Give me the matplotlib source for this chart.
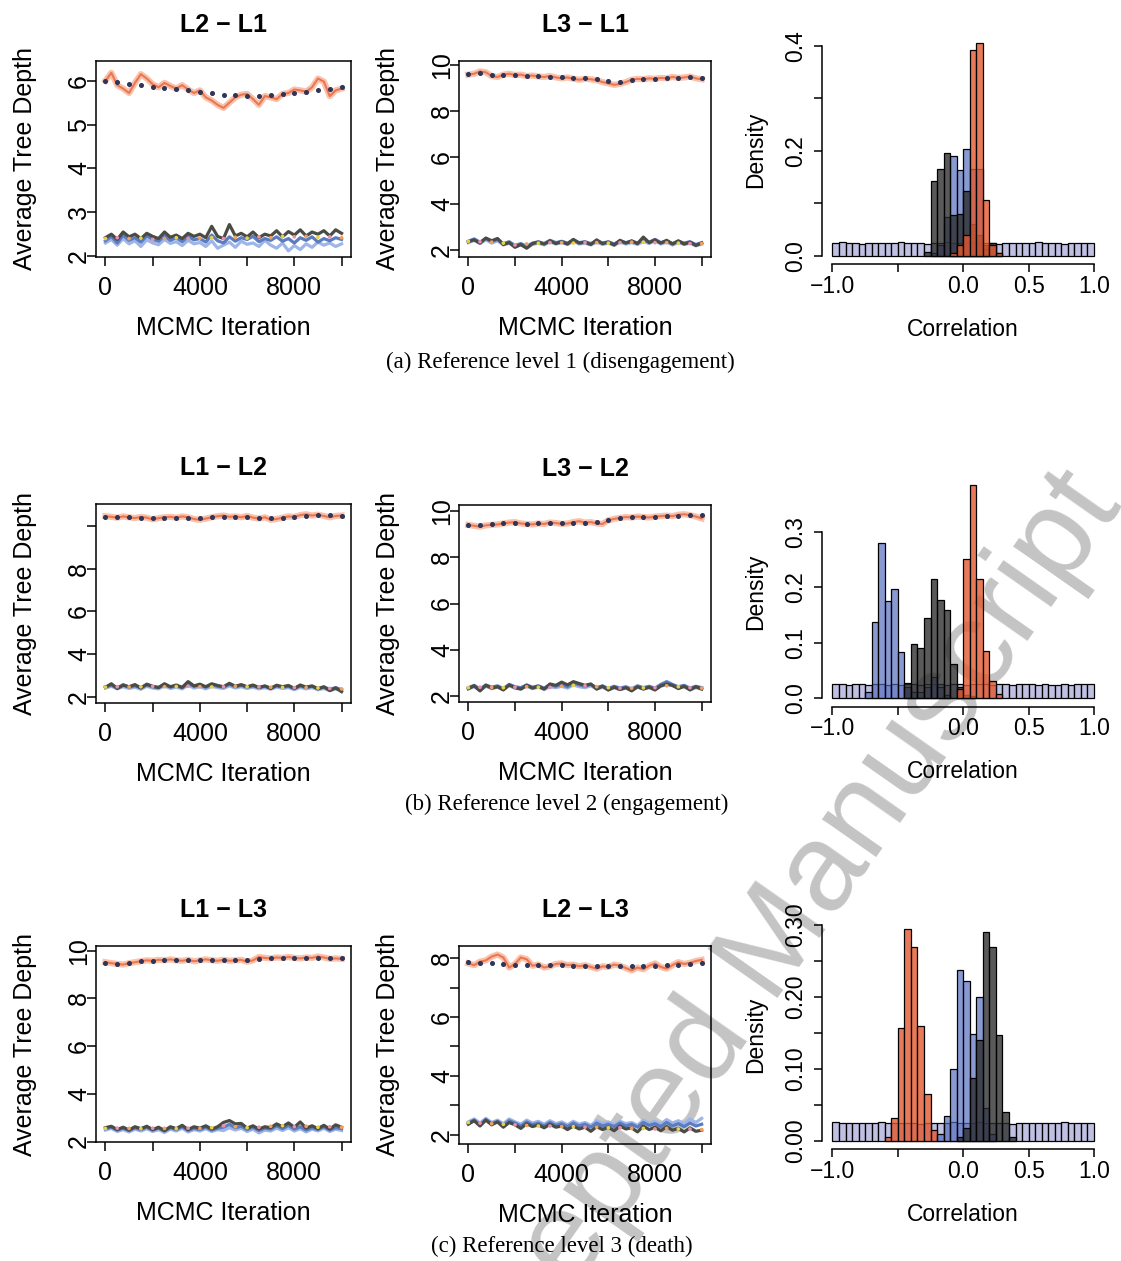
import numpy as np
import matplotlib.pyplot as plt

W, H = 1121, 1261
plt.rcParams['font.family'] = ['Liberation Sans', 'DejaVu Sans']

# ---------------- trace data ----------------
iters = list(range(0, 10001, 250))
dot_iters = list(range(0, 10001, 500))

a1_upper = [6.00, 6.18, 5.90, 5.82, 5.72, 5.95, 6.15, 6.05, 5.92, 5.85,
            5.95, 5.88, 5.82, 5.90, 5.80, 5.72, 5.78, 5.62, 5.55, 5.45,
            5.38, 5.50, 5.62, 5.68, 5.70, 5.58, 5.45, 5.65, 5.62, 5.58,
            5.70, 5.72, 5.80, 5.78, 5.75, 5.85, 6.05, 5.98, 5.65, 5.78, 5.82]
a1_dots = [6.00, 5.96, 5.92, 5.90, 5.86, 5.84, 5.82, 5.78, 5.75, 5.72,
           5.68, 5.67, 5.65, 5.66, 5.68, 5.70, 5.72, 5.75, 5.78, 5.82, 5.85]
a1_lb = [2.30, 2.38, 2.25, 2.40, 2.28, 2.35, 2.22, 2.37, 2.30, 2.26,
         2.38, 2.29, 2.33, 2.24, 2.36, 2.28, 2.31, 2.22, 2.35, 2.18,
         2.25, 2.32, 2.20, 2.34, 2.27, 2.30, 2.22, 2.36, 2.25, 2.18,
         2.30, 2.12, 2.24, 2.15, 2.28, 2.20, 2.32, 2.25, 2.30, 2.22, 2.28]
a1_sb = [2.35, 2.45, 2.30, 2.48, 2.36, 2.42, 2.32, 2.46, 2.38, 2.34,
         2.47, 2.36, 2.42, 2.33, 2.45, 2.37, 2.40, 2.32, 2.48, 2.35,
         2.30, 2.44, 2.34, 2.42, 2.38, 2.45, 2.33, 2.40, 2.36, 2.44,
         2.34, 2.40, 2.30, 2.42, 2.36, 2.44, 2.32, 2.40, 2.35, 2.42, 2.38]
a1_dg = [2.42, 2.50, 2.38, 2.55, 2.44, 2.50, 2.40, 2.52, 2.45, 2.40,
         2.55, 2.43, 2.48, 2.40, 2.52, 2.45, 2.50, 2.42, 2.68, 2.45,
         2.40, 2.72, 2.46, 2.52, 2.44, 2.55, 2.42, 2.50, 2.46, 2.58,
         2.44, 2.56, 2.48, 2.60, 2.46, 2.55, 2.50, 2.58, 2.46, 2.60, 2.52]
a1_low_dots = [2.40, 2.42, 2.40, 2.41, 2.38, 2.40, 2.42, 2.40, 2.41, 2.42,
               2.40, 2.43, 2.41, 2.44, 2.42, 2.45, 2.44, 2.45, 2.43, 2.44, 2.42]

a2_upper = [9.58, 9.62, 9.72, 9.68, 9.52, 9.48, 9.58, 9.62, 9.56, 9.58,
            9.52, 9.54, 9.50, 9.48, 9.52, 9.46, 9.42, 9.46, 9.40, 9.36,
            9.40, 9.38, 9.34, 9.26, 9.20, 9.14, 9.18, 9.26, 9.36, 9.40,
            9.38, 9.42, 9.40, 9.44, 9.42, 9.48, 9.44, 9.46, 9.50, 9.42, 9.38]
a2_dots = [9.62, 9.65, 9.58, 9.56, 9.56, 9.54, 9.52, 9.50, 9.48, 9.44,
           9.42, 9.38, 9.32, 9.28, 9.33, 9.38, 9.40, 9.42, 9.44, 9.46, 9.44]
a2_lb = [2.32, 2.42, 2.28, 2.45, 2.30, 2.40, 2.22, 2.30, 2.14, 2.22,
         2.10, 2.24, 2.30, 2.22, 2.36, 2.26, 2.32, 2.24, 2.38, 2.26,
         2.30, 2.22, 2.34, 2.24, 2.30, 2.20, 2.34, 2.26, 2.32, 2.24,
         2.38, 2.28, 2.40, 2.26, 2.34, 2.22, 2.32, 2.24, 2.30, 2.18, 2.26]
a2_sb = [2.38, 2.48, 2.34, 2.50, 2.36, 2.46, 2.28, 2.36, 2.20, 2.28,
         2.16, 2.30, 2.36, 2.28, 2.42, 2.32, 2.38, 2.30, 2.44, 2.32,
         2.36, 2.28, 2.40, 2.30, 2.36, 2.26, 2.40, 2.32, 2.38, 2.30,
         2.44, 2.34, 2.46, 2.32, 2.40, 2.28, 2.38, 2.30, 2.36, 2.24, 2.32]
a2_dg = [2.36, 2.44, 2.30, 2.52, 2.40, 2.50, 2.24, 2.32, 2.12, 2.24,
         2.08, 2.28, 2.34, 2.26, 2.40, 2.28, 2.36, 2.26, 2.46, 2.30,
         2.34, 2.24, 2.44, 2.28, 2.34, 2.22, 2.42, 2.30, 2.40, 2.28,
         2.56, 2.32, 2.44, 2.30, 2.42, 2.26, 2.40, 2.26, 2.34, 2.20, 2.30]
a2_low_dots = [2.38, 2.36, 2.34, 2.30, 2.22, 2.26, 2.30, 2.32, 2.32, 2.30,
               2.32, 2.32, 2.30, 2.32, 2.34, 2.34, 2.32, 2.32, 2.30, 2.28, 2.28]

b1_upper = [10.45, 10.42, 10.38, 10.44, 10.40, 10.36, 10.42, 10.38, 10.30, 10.36,
            10.40, 10.42, 10.38, 10.44, 10.40, 10.32, 10.28, 10.34, 10.40, 10.45,
            10.48, 10.42, 10.44, 10.40, 10.46, 10.38, 10.34, 10.40, 10.28, 10.32,
            10.38, 10.44, 10.42, 10.50, 10.54, 10.48, 10.52, 10.46, 10.40, 10.46, 10.48]
b1_dots = [10.42, 10.42, 10.40, 10.38, 10.36, 10.36, 10.35, 10.36, 10.38, 10.40,
           10.42, 10.41, 10.40, 10.38, 10.37, 10.38, 10.42, 10.46, 10.50, 10.50, 10.48]
b1_lb = [2.42, 2.50, 2.38, 2.48, 2.40, 2.46, 2.36, 2.50, 2.42, 2.38,
         2.52, 2.40, 2.46, 2.38, 2.55, 2.42, 2.48, 2.38, 2.50, 2.44,
         2.40, 2.52, 2.42, 2.48, 2.40, 2.46, 2.38, 2.44, 2.36, 2.46,
         2.40, 2.44, 2.34, 2.45, 2.38, 2.44, 2.34, 2.40, 2.30, 2.38, 2.32]
b1_sb = [2.48, 2.55, 2.42, 2.58, 2.46, 2.52, 2.44, 2.56, 2.48, 2.45,
         2.58, 2.46, 2.52, 2.44, 2.62, 2.50, 2.55, 2.46, 2.58, 2.50,
         2.46, 2.60, 2.48, 2.54, 2.46, 2.52, 2.45, 2.50, 2.42, 2.52,
         2.46, 2.50, 2.40, 2.52, 2.44, 2.50, 2.40, 2.46, 2.36, 2.44, 2.34]
b1_dg = [2.45, 2.62, 2.40, 2.55, 2.48, 2.58, 2.42, 2.60, 2.50, 2.44,
         2.62, 2.48, 2.56, 2.45, 2.72, 2.52, 2.60, 2.48, 2.62, 2.54,
         2.48, 2.64, 2.50, 2.58, 2.48, 2.56, 2.44, 2.52, 2.40, 2.55,
         2.48, 2.54, 2.40, 2.56, 2.46, 2.52, 2.38, 2.48, 2.30, 2.42, 2.25]
b1_low_dots = [2.46, 2.48, 2.47, 2.48, 2.50, 2.48, 2.49, 2.50, 2.48, 2.47,
               2.48, 2.50, 2.48, 2.47, 2.46, 2.45, 2.44, 2.44, 2.42, 2.40, 2.38]

b2_upper = [9.40, 9.36, 9.32, 9.38, 9.40, 9.42, 9.46, 9.50, 9.52, 9.46,
            9.44, 9.42, 9.46, 9.44, 9.50, 9.48, 9.44, 9.46, 9.52, 9.56,
            9.50, 9.52, 9.46, 9.44, 9.60, 9.66, 9.70, 9.74, 9.72, 9.76,
            9.74, 9.72, 9.76, 9.78, 9.80, 9.78, 9.84, 9.86, 9.82, 9.76, 9.68]
b2_dots = [9.40, 9.38, 9.42, 9.46, 9.46, 9.45, 9.46, 9.48, 9.47, 9.48,
           9.50, 9.52, 9.60, 9.68, 9.72, 9.74, 9.75, 9.78, 9.80, 9.84, 9.82]
b2_lb = [2.30, 2.40, 2.25, 2.42, 2.32, 2.38, 2.28, 2.44, 2.34, 2.30,
         2.42, 2.32, 2.38, 2.28, 2.40, 2.36, 2.42, 2.34, 2.48, 2.40,
         2.36, 2.44, 2.30, 2.38, 2.26, 2.36, 2.28, 2.34, 2.24, 2.38,
         2.30, 2.36, 2.28, 2.42, 2.50, 2.44, 2.34, 2.40, 2.28, 2.36, 2.30]
b2_sb = [2.36, 2.46, 2.30, 2.48, 2.38, 2.44, 2.32, 2.50, 2.40, 2.36,
         2.48, 2.38, 2.44, 2.34, 2.48, 2.42, 2.50, 2.40, 2.56, 2.48,
         2.42, 2.50, 2.36, 2.44, 2.32, 2.42, 2.34, 2.40, 2.30, 2.44,
         2.36, 2.42, 2.34, 2.50, 2.62, 2.50, 2.40, 2.46, 2.34, 2.42, 2.36]
b2_dg = [2.32, 2.44, 2.22, 2.46, 2.34, 2.40, 2.26, 2.48, 2.36, 2.30,
         2.46, 2.34, 2.42, 2.30, 2.52, 2.46, 2.60, 2.48, 2.62, 2.54,
         2.46, 2.52, 2.30, 2.42, 2.26, 2.38, 2.28, 2.36, 2.22, 2.40,
         2.30, 2.38, 2.26, 2.44, 2.52, 2.46, 2.32, 2.42, 2.26, 2.40, 2.30]
b2_low_dots = [2.36, 2.38, 2.37, 2.36, 2.38, 2.40, 2.38, 2.37, 2.42, 2.46,
               2.44, 2.40, 2.36, 2.34, 2.34, 2.35, 2.36, 2.44, 2.40, 2.36, 2.34]

c1_upper = [9.52, 9.48, 9.45, 9.42, 9.48, 9.52, 9.56, 9.60, 9.58, 9.62,
            9.60, 9.64, 9.60, 9.58, 9.62, 9.56, 9.60, 9.64, 9.60, 9.58,
            9.62, 9.58, 9.60, 9.62, 9.54, 9.60, 9.74, 9.70, 9.68, 9.72,
            9.70, 9.74, 9.70, 9.68, 9.72, 9.70, 9.76, 9.72, 9.66, 9.68, 9.66]
c1_dots = [9.50, 9.46, 9.50, 9.55, 9.58, 9.60, 9.60, 9.60, 9.60, 9.60,
           9.60, 9.60, 9.62, 9.66, 9.68, 9.70, 9.70, 9.70, 9.70, 9.70, 9.68]
c1_lb = [2.48, 2.55, 2.42, 2.50, 2.40, 2.52, 2.44, 2.54, 2.42, 2.50,
         2.38, 2.52, 2.44, 2.56, 2.40, 2.50, 2.44, 2.54, 2.42, 2.50,
         2.46, 2.58, 2.48, 2.56, 2.42, 2.52, 2.36, 2.48, 2.44, 2.56,
         2.46, 2.58, 2.44, 2.54, 2.40, 2.52, 2.44, 2.56, 2.42, 2.52, 2.46]
c1_sb = [2.54, 2.60, 2.48, 2.56, 2.46, 2.58, 2.50, 2.60, 2.48, 2.56,
         2.44, 2.58, 2.50, 2.62, 2.46, 2.56, 2.50, 2.60, 2.48, 2.56,
         2.60, 2.72, 2.58, 2.64, 2.50, 2.60, 2.46, 2.56, 2.52, 2.66,
         2.54, 2.68, 2.52, 2.62, 2.48, 2.58, 2.50, 2.62, 2.48, 2.58, 2.54]
c1_dg = [2.58, 2.64, 2.50, 2.60, 2.48, 2.62, 2.54, 2.64, 2.50, 2.60,
         2.46, 2.62, 2.54, 2.68, 2.50, 2.62, 2.56, 2.66, 2.52, 2.62,
         2.80, 2.88, 2.74, 2.76, 2.56, 2.66, 2.52, 2.62, 2.58, 2.74,
         2.62, 2.78, 2.60, 2.82, 2.56, 2.66, 2.54, 2.68, 2.52, 2.70, 2.60]
c1_low_dots = [2.55, 2.56, 2.55, 2.54, 2.56, 2.55, 2.54, 2.56, 2.55, 2.58,
               2.66, 2.62, 2.58, 2.60, 2.64, 2.66, 2.62, 2.64, 2.60, 2.62, 2.60]

c2_upper = [7.82, 7.76, 7.88, 7.92, 8.05, 8.12, 8.02, 7.68, 7.80, 8.02,
            7.96, 7.74, 7.78, 7.68, 7.72, 7.80, 7.82, 7.76, 7.78, 7.72,
            7.76, 7.70, 7.64, 7.72, 7.70, 7.78, 7.74, 7.66, 7.58, 7.68,
            7.62, 7.74, 7.82, 7.70, 7.64, 7.76, 7.86, 7.80, 7.84, 7.90, 7.94]
c2_dots = [7.86, 7.84, 7.82, 7.80, 7.78, 7.77, 7.76, 7.76, 7.75, 7.74,
           7.74, 7.73, 7.72, 7.72, 7.72, 7.73, 7.74, 7.76, 7.78, 7.80, 7.84]
c2_lb = [2.44, 2.54, 2.40, 2.56, 2.42, 2.50, 2.38, 2.54, 2.44, 2.36,
         2.50, 2.40, 2.46, 2.36, 2.48, 2.38, 2.44, 2.34, 2.46, 2.36,
         2.42, 2.32, 2.48, 2.38, 2.44, 2.34, 2.46, 2.38, 2.42, 2.32,
         2.50, 2.40, 2.46, 2.36, 2.52, 2.40, 2.48, 2.38, 2.54, 2.42, 2.56]
c2_sb = [2.40, 2.50, 2.34, 2.52, 2.38, 2.46, 2.32, 2.48, 2.40, 2.30,
         2.44, 2.34, 2.40, 2.30, 2.42, 2.32, 2.38, 2.28, 2.40, 2.30,
         2.36, 2.26, 2.40, 2.30, 2.36, 2.28, 2.40, 2.30, 2.36, 2.26,
         2.42, 2.32, 2.38, 2.28, 2.42, 2.30, 2.38, 2.28, 2.40, 2.30, 2.36]
c2_dg = [2.36, 2.48, 2.30, 2.50, 2.34, 2.44, 2.26, 2.42, 2.34, 2.22,
         2.38, 2.28, 2.34, 2.24, 2.36, 2.26, 2.30, 2.18, 2.30, 2.20,
         2.26, 2.12, 2.28, 2.18, 2.26, 2.14, 2.30, 2.20, 2.24, 2.10,
         2.30, 2.18, 2.26, 2.14, 2.28, 2.16, 2.22, 2.10, 2.24, 2.12, 2.16]
c2_low_dots = [2.42, 2.40, 2.38, 2.36, 2.34, 2.32, 2.30, 2.30, 2.28, 2.28,
               2.26, 2.26, 2.24, 2.24, 2.22, 2.22, 2.20, 2.22, 2.20, 2.20, 2.18]

# ---------------- histogram data (proportion per 0.05 bin) ----------------
bin_width = 0.05
prior_a = [0.024, 0.026, 0.025, 0.025, 0.023, 0.025, 0.025, 0.024, 0.025, 0.025,
           0.026, 0.024, 0.024, 0.025, 0.023, 0.025, 0.024, 0.026, 0.025, 0.025,
           0.025, 0.026, 0.024, 0.025, 0.025, 0.023, 0.024, 0.025, 0.025, 0.025,
           0.024, 0.026, 0.025, 0.024, 0.025, 0.023, 0.025, 0.024, 0.025, 0.025]
prior_b = [0.025, 0.025, 0.023, 0.025, 0.025, 0.024, 0.026, 0.025, 0.024, 0.025,
           0.023, 0.025, 0.025, 0.024, 0.025, 0.026, 0.025, 0.024, 0.025, 0.025,
           0.024, 0.025, 0.026, 0.025, 0.023, 0.025, 0.025, 0.024, 0.025, 0.026,
           0.025, 0.024, 0.025, 0.024, 0.023, 0.025, 0.024, 0.026, 0.026, 0.025]
prior_c = [0.026, 0.025, 0.025, 0.025, 0.024, 0.025, 0.025, 0.026, 0.024, 0.025,
           0.025, 0.024, 0.025, 0.023, 0.025, 0.024, 0.025, 0.025, 0.026, 0.025,
           0.025, 0.024, 0.026, 0.025, 0.025, 0.024, 0.025, 0.023, 0.025, 0.025,
           0.024, 0.025, 0.025, 0.024, 0.025, 0.026, 0.025, 0.024, 0.025, 0.025]

a_orange_start, a_orange = -0.10, [0.005, 0.02, 0.04, 0.392, 0.405, 0.107, 0.02, 0.005]
a_blue_start, a_blue = -0.25, [0.005, 0.02, 0.075, 0.19, 0.163, 0.204, 0.165, 0.165, 0.013]
a_dark_start, a_dark = -0.30, [0.008, 0.142, 0.165, 0.196, 0.078, 0.08, 0.124, 0.06, 0.04, 0.02, 0.025, 0.005]

b_blue_start, b_blue = -0.75, [0.011, 0.138, 0.28, 0.175, 0.198, 0.083, 0.02, 0.01, 0.01, 0.02, 0.038, 0.02, 0.005]
b_dark_start, b_dark = -0.45, [0.027, 0.097, 0.091, 0.144, 0.216, 0.177, 0.159, 0.061, 0.02, 0.005, 0.003]
b_orange_start, b_orange = -0.05, [0.017, 0.251, 0.385, 0.216, 0.085, 0.031, 0.007]

c_orange_start, c_orange = -0.60, [0.005, 0.032, 0.157, 0.294, 0.27, 0.159, 0.065, 0.015]
c_blue_start, c_blue = -0.20, [0.01, 0.034, 0.10, 0.238, 0.222, 0.148, 0.20, 0.045, 0.01]
c_dark_start, c_dark = -0.05, [0.005, 0.018, 0.087, 0.14, 0.291, 0.27, 0.147, 0.04, 0.005]

captions = ['(a) Reference level 1 (disengagement)',
            '(b) Reference level 2 (engagement)',
            '(c) Reference level 3 (death)']

# ---------------- styling ----------------
ORANGE = (0.89, 0.35, 0.19, 0.8)
BLUE = (0.32, 0.42, 0.75, 0.68)
DARK = (0.17, 0.17, 0.17, 0.78)
LAV = (0.64, 0.64, 0.84, 0.68)
low_colors = ['#9DB5E8', '#5B7DC0', '#4B4B45']
low_dot_colors = ['#E6D24A', '#EA8FB0', '#F2A060']

fig = plt.figure(figsize=(W / 100, H / 100), dpi=100)

# watermark sits behind the panels
fig.text(762 / W, 1 - 965 / H, 'Accepted Manuscript', rotation=55,
         rotation_mode='anchor', ha='center', va='center', fontsize=90,
         color='#C4C4C4', zorder=-5)


def px_axes(x0, y0, x1, y1):
    ax = fig.add_axes([x0 / W, 1 - y1 / H, (x1 - x0) / W, (y1 - y0) / H])
    ax.patch.set_alpha(0)
    return ax


def draw_trace(box, title, upper, dots, lows, low_dots, ylim, yticks, ylabels):
    ax = px_axes(*box)
    hpx = box[3] - box[1]
    wpx = box[2] - box[0]
    ax.plot(iters, upper, color='#F9C2AC', lw=4.5, zorder=2, solid_joinstyle='round')
    ax.plot(iters, upper, color='#EC7650', lw=1.5, zorder=3)
    ax.plot(dot_iters, dots, 'o', ms=2.6, color='#2E3558', zorder=4)
    for vals, col in zip(lows, low_colors):
        ax.plot(iters, vals, color=col, lw=2.3, zorder=2)
    dcols = [low_dot_colors[i % 3] for i in range(len(low_dots))]
    ax.scatter(dot_iters, low_dots, s=7, c=dcols, zorder=4, linewidths=0)
    ax.set_xlim(-400, 10400)
    ax.set_ylim(*ylim)
    ax.set_xticks(range(0, 10001, 2000), ['0', '', '4000', '', '8000', ''])
    ax.set_yticks(yticks, ylabels, rotation=90, va='center', ha='center')
    ax.tick_params(axis='both', direction='out', length=6.8, width=1.1, labelsize=18)
    ax.tick_params(axis='x', pad=7)
    ax.tick_params(axis='y', pad=5.5)
    for s in ax.spines.values():
        s.set_linewidth(1.1)
    ax.text(0.5, 1 + 29 / hpx, title, transform=ax.transAxes, ha='center',
            va='baseline', fontsize=18, fontweight='bold')
    ax.text(0.5, -78 / hpx, 'MCMC Iteration', transform=ax.transAxes,
            ha='center', va='baseline', fontsize=18)
    ax.text(-64 / wpx, 0.5, 'Average Tree Depth', transform=ax.transAxes,
            ha='center', va='baseline', rotation=90, rotation_mode='anchor', fontsize=18)
    return ax


def draw_hist(box, prior, series, ylim, yticks, ylabels):
    ax = px_axes(*box)
    hpx = box[3] - box[1]
    wpx = box[2] - box[0]
    lefts = np.round(-1 + bin_width * np.arange(len(prior)), 3)
    ax.bar(lefts, prior, width=bin_width, align='edge', color=LAV,
           edgecolor='black', linewidth=0.9, zorder=2)
    for start, vals, col in series:
        lb = start + bin_width * np.arange(len(vals))
        ax.bar(lb, vals, width=bin_width, align='edge', color=col,
               edgecolor='black', linewidth=0.9, zorder=2)
    ax.set_xlim(-1.08, 1.08)
    ax.set_ylim(*ylim)
    for side in ['top', 'right']:
        ax.spines[side].set_visible(False)
    ax.spines['left'].set_bounds(0, yticks[-1])
    ax.spines['bottom'].set_bounds(-1, 1)
    for s in ax.spines.values():
        s.set_linewidth(1.1)
    ax.set_xticks([-1, -0.5, 0, 0.5, 1], ['\u22121.0', '', '0.0', '0.5', '1.0'])
    ax.set_yticks(yticks, ylabels, rotation=90, va='center', ha='center')
    ax.tick_params(axis='both', direction='out', length=5.8, width=1.1, labelsize=16.5)
    ax.tick_params(axis='x', pad=2)
    ax.tick_params(axis='y', pad=13)
    ax.text(0.5, -72 / hpx, 'Correlation', transform=ax.transAxes,
            ha='center', va='baseline', fontsize=16.5)
    ax.text(-60 / wpx, 0.5, 'Density', transform=ax.transAxes, ha='center',
            va='baseline', rotation=90, rotation_mode='anchor', fontsize=16.5)
    return ax


# ---- row (a)
draw_trace((96, 61, 351, 257), 'L2 \u2212 L1', a1_upper, a1_dots,
           [a1_lb, a1_sb, a1_dg], a1_low_dots, (1.98, 6.45),
           [2, 3, 4, 5, 6], ['2', '3', '4', '5', '6'])
draw_trace((459, 61, 711, 257), 'L3 \u2212 L1', a2_upper, a2_dots,
           [a2_lb, a2_sb, a2_dg], a2_low_dots, (1.7, 10.17),
           [2, 4, 6, 8, 10], ['2', '4', '6', '8', '10'])
draw_hist((822, 35.4, 1104.5, 264.4), prior_a,
          [(a_blue_start, a_blue, BLUE), (a_dark_start, a_dark, DARK),
           (a_orange_start, a_orange, ORANGE)],
          (-0.016, 0.42), [0, 0.1, 0.2, 0.3, 0.4], ['0.0', '', '0.2', '', '0.4'])

# ---- row (b)
draw_trace((96, 504, 351, 703), 'L1 \u2212 L2', b1_upper, b1_dots,
           [b1_lb, b1_sb, b1_dg], b1_low_dots, (1.72, 11.02),
           [2, 4, 6, 8, 10], ['2', '4', '6', '8', ''])
draw_trace((459, 505, 711, 702), 'L3 \u2212 L2', b2_upper, b2_dots,
           [b2_lb, b2_sb, b2_dg], b2_low_dots, (1.74, 10.26),
           [2, 4, 6, 8, 10], ['2', '4', '6', '8', '10'])
draw_hist((822, 476.6, 1104.5, 706.5), prior_b,
          [(b_blue_start, b_blue, BLUE), (b_dark_start, b_dark, DARK),
           (b_orange_start, b_orange, ORANGE)],
          (-0.0154, 0.4004), [0, 0.1, 0.2, 0.3], ['0.0', '0.1', '0.2', '0.3'])

# ---- row (c)
draw_trace((96, 946, 351, 1142), 'L1 \u2212 L3', c1_upper, c1_dots,
           [c1_lb, c1_sb, c1_dg], c1_low_dots, (1.98, 10.2),
           [2, 4, 6, 8, 10], ['2', '4', '6', '8', '10'])
draw_trace((459, 946, 711, 1144), 'L2 \u2212 L3', c2_upper, c2_dots,
           [c2_lb, c2_sb, c2_dg], c2_low_dots, (1.69, 8.41),
           [2, 3, 4, 5, 6, 7, 8], ['2', '', '4', '', '6', '', '8'])
draw_hist((822, 920.9, 1104.5, 1149.2), prior_c,
          [(c_orange_start, c_orange, ORANGE), (c_blue_start, c_blue, BLUE),
           (c_dark_start, c_dark, DARK)],
          (-0.01176, 0.30576), [0, 0.05, 0.1, 0.15, 0.2, 0.25, 0.3],
          ['0.00', '', '0.10', '', '0.20', '', '0.30'])

# captions
for cap, (cx, cy) in zip(captions, [(560, 362), (567, 804), (562, 1246)]):
    fig.text(cx / W, 1 - cy / H, cap, ha='center', va='center',
             fontsize=16.5, family=['Liberation Serif', 'DejaVu Serif'])

fig.savefig('out.png', dpi=100)
